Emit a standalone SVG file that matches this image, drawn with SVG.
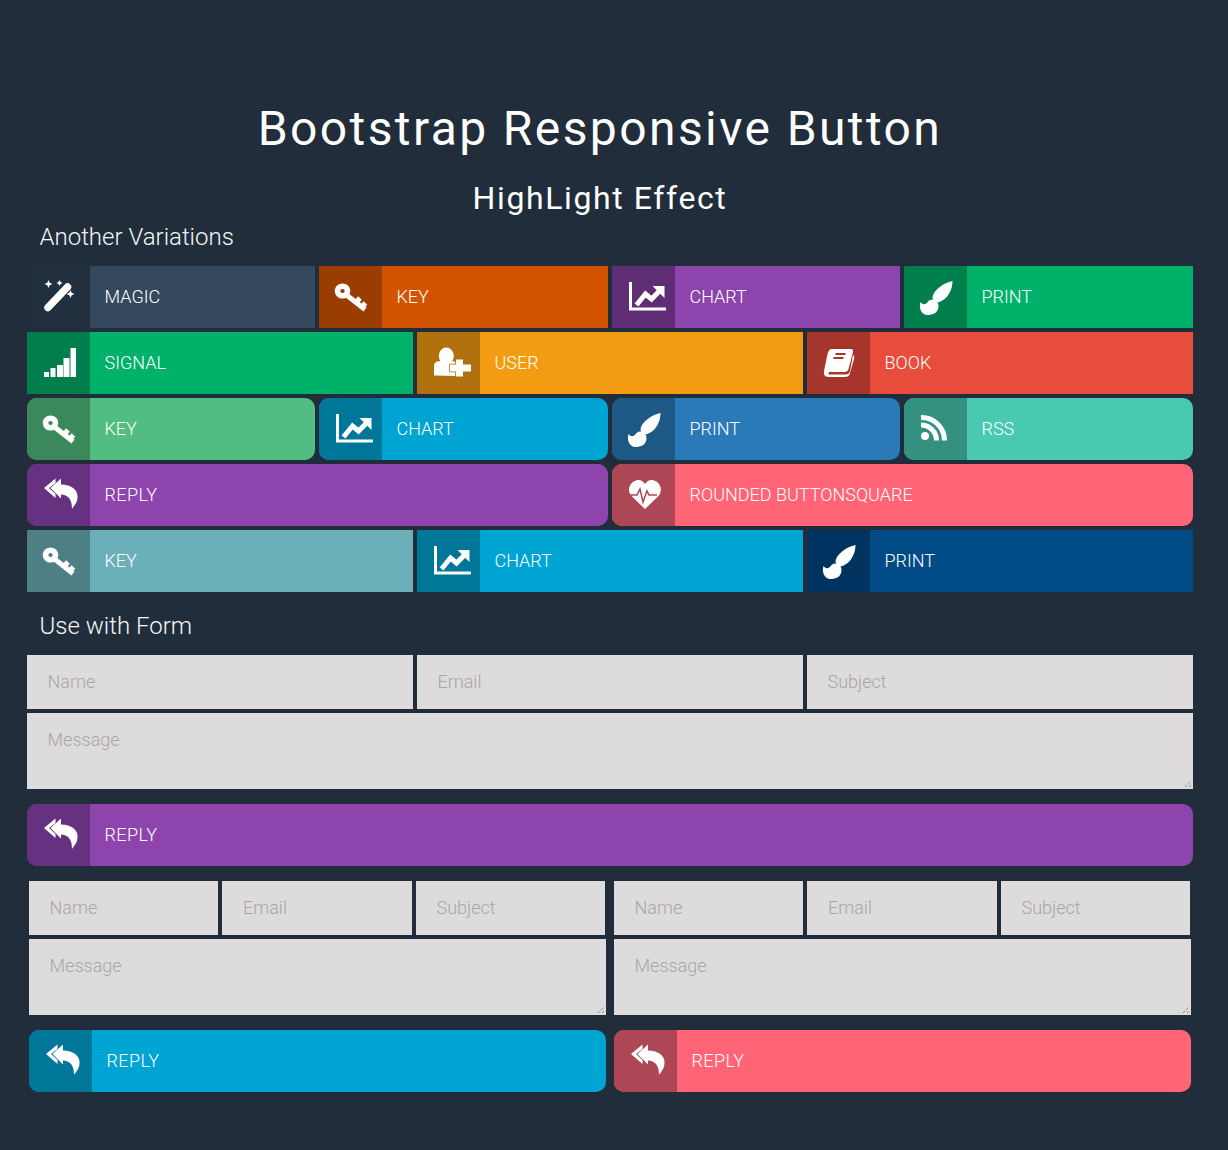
<svg xmlns="http://www.w3.org/2000/svg" xmlns:xlink="http://www.w3.org/1999/xlink" width="1228" height="1150" viewBox="0 0 1228 1150">
<style>
text{font-family:Roboto,"Liberation Sans",sans-serif;font-weight:300}
.title{font-size:48px;letter-spacing:2.400px;fill:#fff;text-anchor:middle;font-weight:400}
.sub{font-size:32px;letter-spacing:1.600px;fill:#fff;text-anchor:middle;font-weight:400}
.sec{font-size:24px;fill:#f5f5f5}
.lbl{font-size:18px;fill:#fff;font-weight:300}
.rp{letter-spacing:.4px}
.ph{font-size:18px;fill:#a8a6a6}
.field{fill:#dedbdc}
.grip{stroke:#666;stroke-width:1;stroke-dasharray:1 1;fill:none}
.ico{fill:#fff}
.ln{fill:none;stroke:#fff}
</style>
<defs>
<path id="lead-r" d="M10 0H63V62H10A10 10 0 0 1 0 52V10A10 10 0 0 1 10 0Z"/>
<g id="grip"><path class="grip" d="M-7 -1L-1 -7M-3 -1L-1 -3"/></g>
<g id="i-wand">
<path class="ln" stroke-width="7.500" stroke-linecap="round" d="M-10.500 10.500L9 -10"/>
<path class="ico" d="M-10 -17l1.200 2.800 2.800 1.200-2.800 1.200-1.200 2.800-1.200-2.800-2.800-1.200 2.800-1.200zM1 -17l1 2 2 1-2 1-1 2-1-2-2-1 2-1zM12 -7l1.200 2.800 2.800 1.200-2.800 1.200-1.200 2.800-1.200-2.800-2.800-1.200 2.800-1.200z"/>
</g>
<g id="i-key">
<ellipse class="ln" cx="-8" cy="-6" rx="5" ry="4.800" stroke-width="5.600"/>
<path class="ln" stroke-width="5" d="M-4 -2L14.500 12.500M5 6L9.500 1M10.500 10.500L15 6"/>
</g>
<g id="i-chart">
<path class="ln" stroke-width="3" d="M-13 -15V12H22.500"/>
<path class="ln" stroke-width="5" d="M-7 8L2 -3L8 2L16 -6"/>
<path class="ico" d="M9 -11H21V1Z"/>
</g>
<g id="i-brush">
<path class="ico" d="M17 -16C17 -7 12 2 4 5C0 6 -3 3 -3 0C-2 -7 8 -14 17 -16Z"/>
<path class="ico" d="M-15 5C-12 9 -9 7 -7 4C-3 1 3 3 3 9C3 16 -3 18 -8 18C-14 18 -17 11 -15 5Z"/>
</g>
<g id="i-signal" class="ico">
<rect x="-14.500" y="9" width="5" height="5"/>
<rect x="-8" y="5" width="5" height="9"/>
<rect x="-1.500" y="2" width="6" height="12"/>
<rect x="5" y="-5" width="6" height="19"/>
<rect x="12" y="-15" width="5.500" height="29"/>
</g>
<g id="i-user" class="ico">
<ellipse cx="-2.200" cy="-7" rx="7.500" ry="8.500"/>
<path d="M-14.500 12.500V3C-14.500 -1 -11 -2 -7 -2C-4 1 0 1 3 -2C6 -2 8 -1 9 0V13Z"/>
<path d="M7.500 -3.500H14.500V1.500H22.500V8.500H14.500V13.500H7.500V8.500H1.500V1.500H7.500Z" stroke="#af700d" stroke-width="1.500" paint-order="stroke"/>
</g>
<g id="i-book">
<path class="ico" d="M-7 -14H12C14 -14 15 -13 14.500 -11L10 6C9.500 8 8 9 6 9H-8C-11 9 -11 11.500 -8 11.500H7C10 11.500 11 10 11.500 8L14.500 -8C16 -7 16 -6 15.500 -4L11.500 10C11 13 9 14 6 14H-10C-14 14 -15 11 -14.500 8L-11 -9C-10 -12 -9 -14 -7 -14Z"/>
</g>
<g id="i-rss">
<circle class="ico" cx="-10.500" cy="7" r="4"/>
<path class="ln" stroke-width="5" d="M-14.500 -4A15.500 15.500 0 0 1 1 11.500"/>
<path class="ln" stroke-width="5" d="M-14.500 -11.500A23 23 0 0 1 9 11.500"/>
</g>
<g id="i-reply" class="ico">
<path d="M-14.500 -7L-3 -16.500V-12L-9.500 -7L-3 -1V3Z"/>
<path d="M-8 -7L2.500 -16.500V-10.500C13 -10.500 20 -5 19 3C18.500 8 15.500 11 13.500 14C13.500 8 12 3 8 1C6 0 4 -.5 2.500 -.5V3.500Z"/>
</g>
<g id="i-heart">
<path class="ico" d="M1.500 14L-12 1C-18 -6 -12 -15 -5 -15C-2 -15 0 -13 1.500 -11C3 -13 5 -15 8 -15C15 -15 21 -6 15 1Z"/>
</g>
</defs>

<rect width="1228" height="1150" fill="#212d3b"/>
<text class="title" x="600" y="145">Bootstrap Responsive Button</text>
<text class="sub" x="600" y="209">HighLight Effect</text>
<text class="sec" x="39.500" y="245">Another Variations</text>

<g id="btn-magic" transform="translate(27 266)"><rect width="288" height="62" fill="#34495e"/><rect width="63" height="62" fill="#222f3e"/><use href="#i-wand" x="31.500" y="31"/><text class="lbl" x="77.500" y="37">MAGIC</text></g>
<g id="btn-key-orange" transform="translate(319 266)"><rect width="289" height="62" fill="#d35400"/><rect width="63" height="62" fill="#993d00"/><use href="#i-key" x="31.500" y="31"/><text class="lbl" x="77.500" y="37">KEY</text></g>
<g id="btn-chart-purple" transform="translate(612 266)"><rect width="288" height="62" fill="#8e44ad"/><rect width="63" height="62" fill="#5f2d74"/><use href="#i-chart" x="31.500" y="31"/><text class="lbl" x="77.500" y="37">CHART</text></g>
<g id="btn-print-green" transform="translate(904 266)"><rect width="289" height="62" fill="#00b16a"/><rect width="63" height="62" fill="#007f4c"/><use href="#i-brush" x="31.500" y="31"/><text class="lbl" x="77.500" y="37">PRINT</text></g>

<g id="btn-signal" transform="translate(27 332)"><rect width="386" height="62" fill="#00b16a"/><rect width="63" height="62" fill="#007f4c"/><use href="#i-signal" x="31.500" y="31"/><text class="lbl" x="77.500" y="37">SIGNAL</text></g>
<g id="btn-user" transform="translate(417 332)"><rect width="386" height="62" fill="#f39c12"/><rect width="63" height="62" fill="#af700d"/><use href="#i-user" x="31.500" y="31"/><text class="lbl" x="77.500" y="37">USER</text></g>
<g id="btn-book" transform="translate(807 332)"><rect width="386" height="62" fill="#e74c3c"/><rect width="63" height="62" fill="#a6362b"/><use href="#i-book" x="31.500" y="31"/><path d="M-3 -9H7M-5 -5H5" transform="translate(31.500 31)" stroke="#a6362b" stroke-width="2"/><text class="lbl" x="77.500" y="37">BOOK</text></g>

<g id="btn-key-green" transform="translate(27 398)"><rect width="288" height="62" rx="10" fill="#52bd80"/><use href="#lead-r" fill="#3b885c"/><use href="#i-key" x="31.500" y="31"/><text class="lbl" x="77.500" y="37">KEY</text></g>
<g id="btn-chart-blue" transform="translate(319 398)"><rect width="289" height="62" rx="10" fill="#00a4d3"/><use href="#lead-r" fill="#007698"/><use href="#i-chart" x="31.500" y="31"/><text class="lbl" x="77.500" y="37">CHART</text></g>
<g id="btn-print-blue" transform="translate(612 398)"><rect width="288" height="62" rx="10" fill="#2a7ab8"/><use href="#lead-r" fill="#1e5884"/><use href="#i-brush" x="31.500" y="31"/><text class="lbl" x="77.500" y="37">PRINT</text></g>
<g id="btn-rss" transform="translate(904 398)"><rect width="289" height="62" rx="10" fill="#48c9b0"/><use href="#lead-r" fill="#34917f"/><use href="#i-rss" x="31.500" y="31"/><text class="lbl" x="77.500" y="37">RSS</text></g>

<g id="btn-reply-purple" transform="translate(27 464)"><rect width="581" height="62" rx="10" fill="#8e44ad"/><use href="#lead-r" fill="#663180"/><use href="#i-reply" x="31.500" y="31"/><text class="lbl rp" x="77.500" y="37">REPLY</text></g>
<g id="btn-rounded" transform="translate(612 464)"><rect width="581" height="62" rx="10" fill="#ff6477"/><use href="#lead-r" fill="#ae4755"/><use href="#i-heart" x="31.500" y="31"/><path d="M18 31H25L28 25L31 38L35 27L37 31H45" fill="none" stroke="#ae4755" stroke-width="1.500"/><text class="lbl" x="77.500" y="37">ROUNDED BUTTONSQUARE</text></g>

<g id="btn-key-teal" transform="translate(27 530)"><rect width="386" height="62" fill="#6bb0b8"/><rect width="63" height="62" fill="#4d7f85"/><use href="#i-key" x="31.500" y="31"/><text class="lbl" x="77.500" y="37">KEY</text></g>
<g id="btn-chart-sky" transform="translate(417 530)"><rect width="386" height="62" fill="#00a4d3"/><rect width="63" height="62" fill="#007698"/><use href="#i-chart" x="31.500" y="31"/><text class="lbl" x="77.500" y="37">CHART</text></g>
<g id="btn-print-navy" transform="translate(807 530)"><rect width="386" height="62" fill="#004a85"/><rect width="63" height="62" fill="#003360"/><use href="#i-brush" x="31.500" y="31"/><text class="lbl" x="77.500" y="37">PRINT</text></g>

<text class="sec" x="39.500" y="634">Use with Form</text>

<g id="form-main">
<rect class="field" x="27" y="655" width="386" height="54"/><text class="ph" x="47.500" y="688">Name</text>
<rect class="field" x="417" y="655" width="386" height="54"/><text class="ph" x="437.500" y="688">Email</text>
<rect class="field" x="807" y="655" width="386" height="54"/><text class="ph" x="827.500" y="688">Subject</text>
<rect class="field" x="27" y="713" width="1166" height="76"/><text class="ph" x="47.500" y="746">Message</text>
<use href="#grip" x="1192" y="788"/>
</g>
<g id="btn-reply-wide" transform="translate(27 804)"><rect width="1166" height="62" rx="10" fill="#8e44ad"/><use href="#lead-r" fill="#663180"/><use href="#i-reply" x="31.500" y="31"/><text class="lbl rp" x="77.500" y="37">REPLY</text></g>

<g id="form-left">
<rect class="field" x="29" y="881" width="189" height="54"/><text class="ph" x="49.500" y="914">Name</text>
<rect class="field" x="222" y="881" width="190" height="54"/><text class="ph" x="243" y="914">Email</text>
<rect class="field" x="416" y="881" width="189" height="54"/><text class="ph" x="436.500" y="914">Subject</text>
<rect class="field" x="29" y="939" width="577" height="76"/><text class="ph" x="49.500" y="972">Message</text>
<use href="#grip" x="605" y="1014"/>
</g>
<g id="form-right">
<rect class="field" x="614" y="881" width="189" height="54"/><text class="ph" x="634.500" y="914">Name</text>
<rect class="field" x="807" y="881" width="190" height="54"/><text class="ph" x="828" y="914">Email</text>
<rect class="field" x="1001" y="881" width="189" height="54"/><text class="ph" x="1021.500" y="914">Subject</text>
<rect class="field" x="614" y="939" width="577" height="76"/><text class="ph" x="634.500" y="972">Message</text>
<use href="#grip" x="1190" y="1014"/>
</g>
<g id="btn-reply-blue" transform="translate(29 1030)"><rect width="577" height="62" rx="10" fill="#00a4d3"/><use href="#lead-r" fill="#007698"/><use href="#i-reply" x="31.500" y="31"/><text class="lbl rp" x="77.500" y="37">REPLY</text></g>
<g id="btn-reply-pink" transform="translate(614 1030)"><rect width="577" height="62" rx="10" fill="#ff6477"/><use href="#lead-r" fill="#ae4755"/><use href="#i-reply" x="31.500" y="31"/><text class="lbl rp" x="77.500" y="37">REPLY</text></g>
</svg>
